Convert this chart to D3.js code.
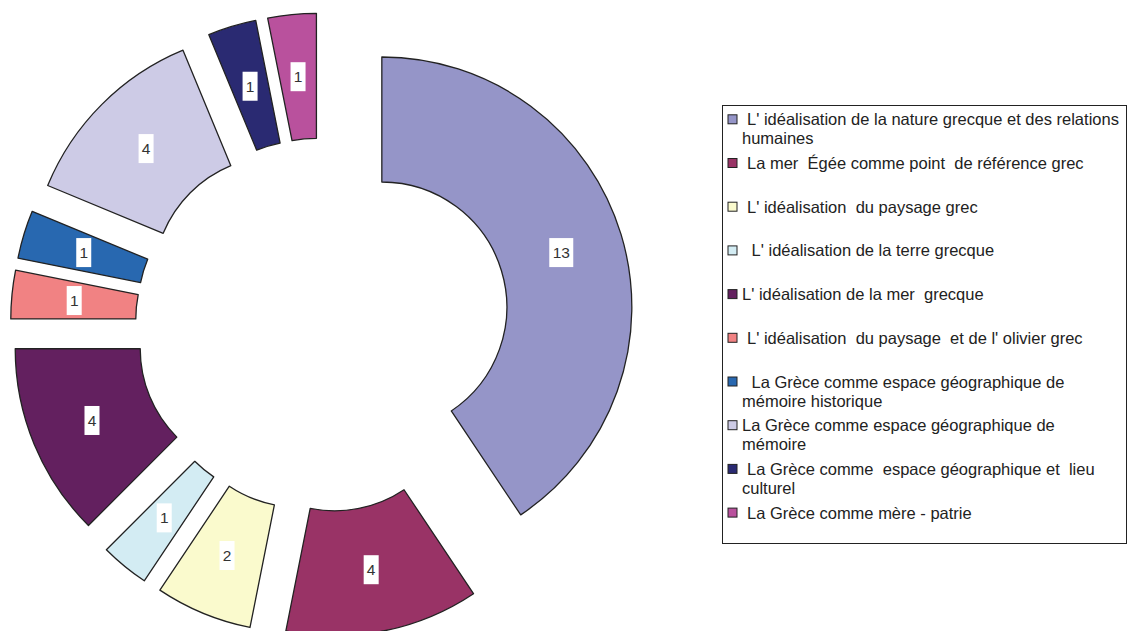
<!DOCTYPE html>
<html>
<head>
<meta charset="utf-8">
<script src="https://cdn.jsdelivr.net/npm/d3@7"></script>
<style>
  body { margin:0; background:#fff; }
  text { font-family: "Liberation Sans", Arial, sans-serif; white-space: pre; }
</style>
</head>
<body>
<script>
var categories = [
  ["L' idéalisation de la nature grecque et des relations", "humaines"],
  ["La mer  Égée comme point  de référence grec"],
  ["L' idéalisation  du paysage grec"],
  [" L' idéalisation de la terre grecque"],
  ["L' idéalisation de la mer  grecque"],
  ["L' idéalisation  du paysage  et de l' olivier grec"],
  [" La Grèce comme espace géographique de", "mémoire historique"],
  ["La Grèce comme espace géographique de", "mémoire"],
  ["La Grèce comme  espace géographique et  lieu", "culturel"],
  ["La Grèce comme mère - patrie"]
];
var values = [13, 4, 2, 1, 4, 1, 1, 4, 1, 1];
var colors = ['#9595c8','#993366','#fafacd','#d3ecf3','#63205f','#f18283','#2868b0','#cdcbe6','#2a2a72','#b9519d'];
var textIndent = [0, 0, 0, 0, -5, 0, 0, -5, 0, 0];

var svg = d3.select("body").append("svg").attr('width',1129).attr('height',631);

var cx = 322.5, cy = 325, outerR = 250, innerR = 125, explode = 62;

var pie = d3.pie().sort(null).value(function(d){return d;});
var arc = d3.arc().innerRadius(innerR).outerRadius(outerR);
var arcs = pie(values);

var g = svg.append('g').attr('transform','translate('+cx+','+cy+')');

var slices = g.selectAll('g.slice')
  .data(arcs)
  .enter().append('g')
    .attr('class','slice')
    .attr('transform',function(d){
      var a = (d.startAngle + d.endAngle)/2;
      return 'translate('+(explode*Math.sin(a))+','+(-explode*Math.cos(a))+')';
    });

slices.append('path')
  .attr('d',arc)
  .attr('fill',function(d,i){return colors[i];})
  .attr('stroke','#222')
  .attr('stroke-width',1.3)
  .attr('stroke-linejoin','round');

// value labels in white boxes
slices.each(function(d){
  var c = arc.centroid(d);
  var label = String(d.data);
  var w = label.length > 1 ? 24 : 15;
  var sel = d3.select(this);
  sel.append('rect')
    .attr('x',c[0]-w/2)
    .attr('y',c[1]-14.5)
    .attr('width',w)
    .attr('height',29)
    .attr('fill','#fff');
  sel.append('text')
    .attr('x',c[0])
    .attr('y',c[1]+5.5)
    .attr('text-anchor','middle')
    .attr('font-size',15.5)
    .attr('fill','#333')
    .text(label);
});

// legend
var legend = svg.append('g');
legend.append('rect')
  .attr('x',722.5)
  .attr('y',105.5)
  .attr('width',404)
  .attr('height',438)
  .attr('fill','#fff')
  .attr('stroke','#222')
  .attr('stroke-width',1);

var items = legend.selectAll('g.item')
  .data(categories)
  .enter().append('g')
    .attr('class','item')
    .attr('transform',function(d,i){return 'translate(0,'+(119.3+i*43.7)+')';});

items.append('rect')
  .attr('x',728)
  .attr('y',-4.5)
  .attr('width',9)
  .attr('height',9)
  .attr('fill',function(d,i){return colors[i];})
  .attr('stroke','#222')
  .attr('stroke-width',1);

items.each(function(lines,i){
  var t = d3.select(this).append('text')
    .attr('font-size',16.5)
    .attr('fill','#222');
  lines.forEach(function(line,j){
    t.append('tspan')
      .attr('x', j === 0 ? 747 + textIndent[i] : 742)
      .attr('y', 6 + j*19)
      .text(line);
  });
});
</script>
</body>
</html>
